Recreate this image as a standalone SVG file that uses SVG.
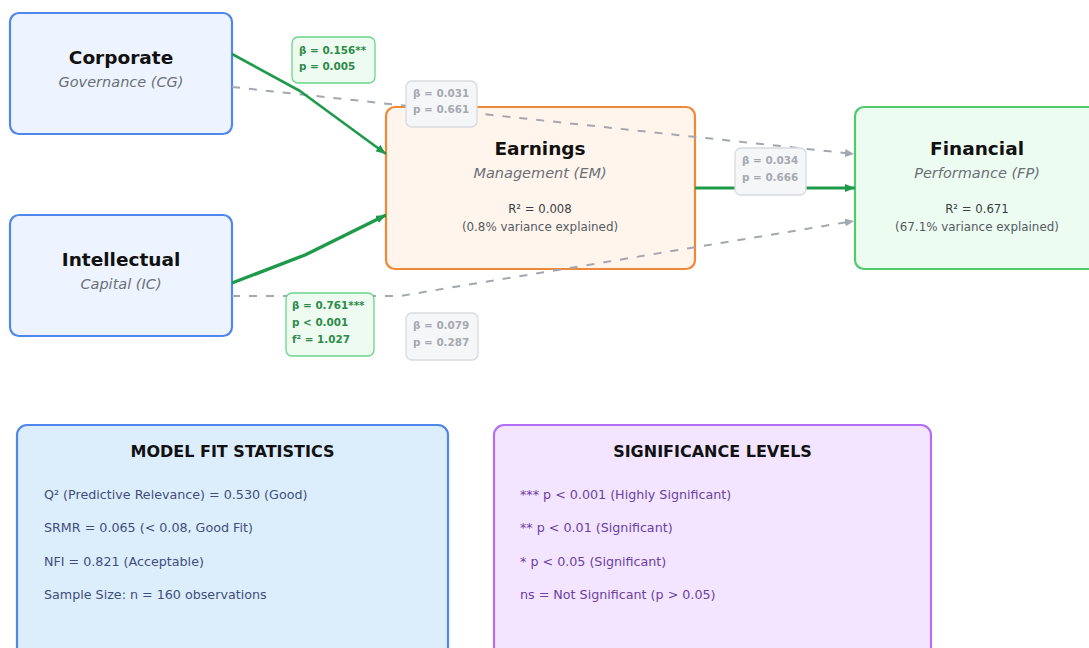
<svg xmlns="http://www.w3.org/2000/svg" width="1089" height="648" viewBox="0 0 1089 648">
<defs>
<style>
text{font-family:"DejaVu Sans","Liberation Sans",sans-serif}
.node-b{fill:#eef4ff;stroke:#4f87ec;stroke-width:2.2}
.node-o{fill:#fff5ec;stroke:#f0883a;stroke-width:2.2}
.node-g{fill:#edfcf1;stroke:#4fca6c;stroke-width:2.2}
.title{font-size:18.5px;font-weight:bold;fill:#111;text-anchor:middle}
.sub{font-size:14.5px;font-style:italic;fill:#6b7078;text-anchor:middle}
.r2{font-size:11.7px;fill:#3a3f47;text-anchor:middle}
.var{font-size:11.9px;fill:#555b63;text-anchor:middle}
.solid{fill:none;stroke:#1f9a4a;stroke-linejoin:round;marker-end:url(#ag)}
.dash{fill:none;stroke:#a3a7ae;stroke-width:2;stroke-dasharray:8 9;marker-end:url(#ad)}
.lg{fill:#edfbf0;stroke:#6bd48a;stroke-width:1.3}
.lgt{font-size:10.4px;font-weight:bold;fill:#2e8b4a}
.lx{fill:#f5f6f8;stroke:#d7dade;stroke-width:1.3}
.lxt{font-size:10.4px;font-weight:bold;fill:#a5a9b0}
.ptitle{font-size:16px;font-weight:bold;fill:#111;text-anchor:middle}
.pb{font-size:12.7px;fill:#3f4d7e}
.pp{font-size:12.7px;fill:#6b3fa3}
</style>
<marker id="ag" markerUnits="userSpaceOnUse" viewBox="0 0 10 8" refX="10" refY="4" markerWidth="10" markerHeight="8" orient="auto"><path d="M0,0 L10,4 L0,8 Z" fill="#1f9a4a"/></marker>
<marker id="ad" markerUnits="userSpaceOnUse" viewBox="0 0 9 8" refX="9" refY="4" markerWidth="9" markerHeight="8" orient="auto"><path d="M0,0 L9,4 L0,8 Z" fill="#a3a7ae"/></marker>
</defs>
<rect width="1089" height="648" fill="#ffffff"/>

<g id="node-cg">
<rect class="node-b" x="10" y="13" width="222" height="121" rx="9"/>
<text class="title" x="121" y="64">Corporate</text>
<text class="sub" x="121" y="87">Governance (CG)</text>
</g>
<g id="node-ic">
<rect class="node-b" x="10" y="215" width="222" height="121" rx="9"/>
<text class="title" x="121" y="266">Intellectual</text>
<text class="sub" x="121" y="289">Capital (IC)</text>
</g>
<g id="node-em">
<rect class="node-o" x="386" y="107" width="309" height="162" rx="9"/>
<text class="title" x="540" y="155">Earnings</text>
<text class="sub" x="540" y="178">Management (EM)</text>
<text class="r2" x="540" y="213">R² = 0.008</text>
<text class="var" x="540" y="231">(0.8% variance explained)</text>
</g>
<g id="node-fp">
<rect class="node-g" x="855" y="107" width="245" height="162" rx="9"/>
<text class="title" x="977" y="155">Financial</text>
<text class="sub" x="977" y="178">Performance (FP)</text>
<text class="r2" x="977" y="213">R² = 0.671</text>
<text class="var" x="977" y="231">(67.1% variance explained)</text>
</g>

<g id="connectors">
<path class="dash" d="M232,87 L854,154"/>
<path class="dash" d="M232,296 L400,296 L854,221"/>
<path class="solid" stroke-width="2.6" d="M232,54 L300,91 L386,154"/>
<path class="solid" stroke-width="3.4" stroke="#1c8a40" d="M232,283 L305,255 L386,215"/>
<path class="solid" stroke-width="3" d="M695,188 L855,188"/>
</g>

<g id="label-cg-em">
<rect class="lg" x="292" y="37" width="83" height="46" rx="6"/>
<text class="lgt" x="299" y="54">β = 0.156**</text>
<text class="lgt" x="299" y="70">p = 0.005</text>
</g>
<g id="label-cg-fp">
<rect class="lx" x="406" y="81" width="71" height="46" rx="6"/>
<text class="lxt" x="413" y="97">β = 0.031</text>
<text class="lxt" x="413" y="113">p = 0.661</text>
</g>
<g id="label-em-fp">
<rect class="lx" x="735" y="148" width="71" height="47" rx="6"/>
<text class="lxt" x="742" y="164">β = 0.034</text>
<text class="lxt" x="742" y="181">p = 0.666</text>
</g>
<g id="label-ic-em">
<rect class="lg" x="286" y="293" width="88" height="63" rx="6"/>
<text class="lgt" x="292" y="309">β = 0.761***</text>
<text class="lgt" x="292" y="326">p &lt; 0.001</text>
<text class="lgt" x="292" y="343">f² = 1.027</text>
</g>
<g id="label-ic-fp">
<rect class="lx" x="406" y="313" width="72" height="47" rx="6"/>
<text class="lxt" x="413" y="329">β = 0.079</text>
<text class="lxt" x="413" y="346">p = 0.287</text>
</g>

<g id="panel-fit">
<rect x="17" y="425" width="431" height="240" rx="10" fill="#dcedfc" stroke="#4f87ec" stroke-width="2.2"/>
<text class="ptitle" x="232.5" y="457">MODEL FIT STATISTICS</text>
<text class="pb" x="44" y="498.5">Q² (Predictive Relevance) = 0.530 (Good)</text>
<text class="pb" x="44" y="532">SRMR = 0.065 (&lt; 0.08, Good Fit)</text>
<text class="pb" x="44" y="565.5">NFI = 0.821 (Acceptable)</text>
<text class="pb" x="44" y="599">Sample Size: n = 160 observations</text>
</g>
<g id="panel-sig">
<rect x="494" y="425" width="437" height="240" rx="10" fill="#f3e5ff" stroke="#b36ef5" stroke-width="2.2"/>
<text class="ptitle" x="712.5" y="457">SIGNIFICANCE LEVELS</text>
<text class="pp" x="520" y="498.5">*** p &lt; 0.001 (Highly Significant)</text>
<text class="pp" x="520" y="532">** p &lt; 0.01 (Significant)</text>
<text class="pp" x="520" y="565.5">* p &lt; 0.05 (Significant)</text>
<text class="pp" x="520" y="599">ns = Not Significant (p &gt; 0.05)</text>
</g>
</svg>
